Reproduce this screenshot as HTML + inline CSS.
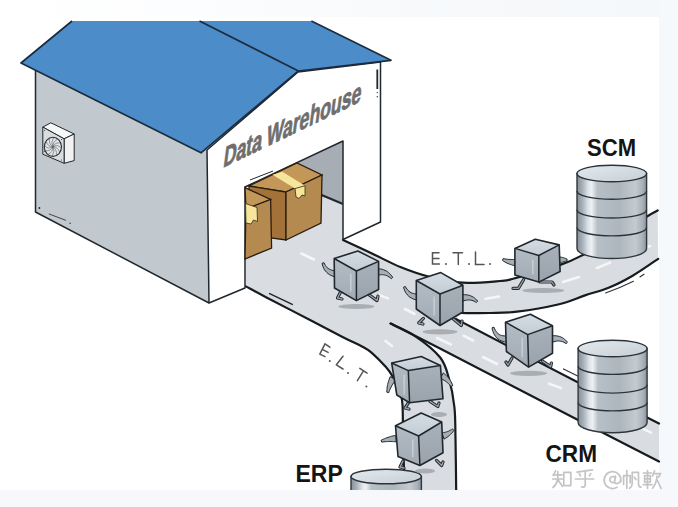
<!DOCTYPE html>
<html><head><meta charset="utf-8"><style>
html,body{margin:0;padding:0;width:678px;height:507px;overflow:hidden;background:#fff;}
svg{display:block;}
</style></head><body>
<svg width="678" height="507" viewBox="0 0 678 507">
<defs><linearGradient id="metal" x1="0" x2="1" y1="0" y2="0"><stop offset="0" stop-color="#868f97"/><stop offset="0.08" stop-color="#a9b2ba"/><stop offset="0.16" stop-color="#dde3e8"/><stop offset="0.21" stop-color="#edf1f4"/><stop offset="0.29" stop-color="#b8c0c7"/><stop offset="0.6" stop-color="#aeb6bd"/><stop offset="0.84" stop-color="#c3cad0"/><stop offset="0.94" stop-color="#aab2b9"/><stop offset="1" stop-color="#88919a"/></linearGradient><linearGradient id="ctop" x1="0" x2="1" y1="0" y2="1"><stop offset="0" stop-color="#e3e9ee"/><stop offset="1" stop-color="#c6cfd6"/></linearGradient><linearGradient id="topband" x1="0" x2="1"><stop offset="0" stop-color="#ffffff"/><stop offset="0.3" stop-color="#fcfdfe"/><stop offset="0.6" stop-color="#f7f9fb"/><stop offset="1" stop-color="#f5f8fa"/></linearGradient><linearGradient id="ctopf" x1="0" x2="0" y1="0" y2="1"><stop offset="0" stop-color="#d5dde4"/><stop offset="1" stop-color="#c3ccd5"/></linearGradient><linearGradient id="cleft" x1="0" x2="0" y1="0" y2="1"><stop offset="0" stop-color="#b3bcc5"/><stop offset="1" stop-color="#a2abb4"/></linearGradient><linearGradient id="cright" x1="0" x2="0" y1="0" y2="1"><stop offset="0" stop-color="#a8b1ba"/><stop offset="1" stop-color="#9aa3ac"/></linearGradient></defs><rect x="0" y="0" width="678" height="507" fill="#ffffff"/><rect x="0" y="0" width="678" height="17" fill="url(#topband)"/><rect x="659" y="0" width="19" height="507" fill="#f6f9fb"/><rect x="0" y="490" width="678" height="17" fill="#f6f8fb"/><path d="M343.0,240.0 C347.8,242.2 362.3,248.9 372.0,253.5 C381.7,258.1 391.4,263.4 401.0,267.3 C410.6,271.2 419.1,274.2 429.4,276.8 C439.6,279.4 450.7,282.0 462.5,282.7 C474.3,283.4 491.4,281.7 500.0,281.0 C508.6,280.3 503.8,281.3 514.0,278.5 C524.2,275.7 549.7,268.5 561.5,264.4 C573.3,260.3 575.7,258.6 584.6,254.0 C593.5,249.4 604.6,243.2 615.0,237.0 C625.4,230.8 639.9,220.9 647.0,216.5 C654.1,212.1 655.9,211.5 657.7,210.5 L658.2,258.8 C653.9,261.7 640.5,271.2 632.2,276.0 C623.9,280.8 616.5,284.6 608.6,287.8 C600.7,291.0 593.4,292.6 585.0,295.4 C576.6,298.2 569.3,301.8 558.0,304.5 C546.7,307.2 528.3,310.3 517.0,311.7 C505.7,313.1 499.3,312.8 490.0,313.0 C480.7,313.2 465.8,313.0 461.0,313.0 L456.0,319.0 C459.5,320.8 457.1,319.6 477.2,330.0 C497.2,340.4 546.0,366.0 576.3,381.6 C606.6,397.2 645.2,416.5 659.0,423.5 L659.0,461.5 C645.8,454.7 616.5,439.7 580.0,420.9 C543.5,402.1 471.6,364.8 440.0,348.6 C408.4,332.4 398.8,327.8 390.6,323.6 L390.6,323.6 C394.7,325.7 407.1,330.7 415.4,336.3 C423.7,341.9 434.6,350.4 440.2,357.5 C445.8,364.6 446.6,370.6 449.0,378.8 C451.4,387.1 453.3,397.0 454.4,407.0 C455.5,417.0 455.2,424.8 455.5,439.0 C455.8,453.2 456.1,483.2 456.2,492.0 L404.0,492.0 C404.0,488.3 404.2,478.7 404.0,470.0 C403.8,461.3 403.2,450.5 403.0,440.0 C402.8,429.5 403.0,414.5 402.6,407.0 C402.2,399.5 402.5,400.2 400.7,395.0 C398.9,389.8 394.5,380.2 392.0,375.5 C389.5,370.8 389.1,370.6 385.7,366.8 C382.3,363.0 375.4,356.0 371.5,352.6 C367.6,349.2 366.8,349.1 362.0,346.5 C357.2,343.9 351.4,341.6 343.0,337.3 C334.6,333.0 324.3,327.5 311.5,320.8 C298.7,314.1 276.9,302.9 266.0,297.2 C255.1,291.5 249.2,288.2 245.8,286.4 L245,195 L343,195 Z" fill="#d9dde1"/><line x1="301.4" y1="253.5" x2="314" y2="259.5" stroke="#f4f6f8" stroke-width="2.6" stroke-linecap="round"/><line x1="379" y1="295" x2="388" y2="298.4" stroke="#f4f6f8" stroke-width="2.6" stroke-linecap="round"/><line x1="405" y1="309" x2="414.5" y2="314" stroke="#f4f6f8" stroke-width="2.6" stroke-linecap="round"/><line x1="385.5" y1="341" x2="392" y2="346" stroke="#f4f6f8" stroke-width="2.6" stroke-linecap="round"/><line x1="463.6" y1="335.7" x2="473" y2="340.5" stroke="#f4f6f8" stroke-width="2.6" stroke-linecap="round"/><line x1="485.5" y1="298.7" x2="499" y2="296.5" stroke="#f4f6f8" stroke-width="2.6" stroke-linecap="round"/><line x1="563" y1="282" x2="579" y2="277" stroke="#f4f6f8" stroke-width="2.6" stroke-linecap="round"/><line x1="597" y1="268" x2="610" y2="262.6" stroke="#f4f6f8" stroke-width="2.6" stroke-linecap="round"/><line x1="639" y1="250" x2="650" y2="246" stroke="#f4f6f8" stroke-width="2.6" stroke-linecap="round"/><line x1="437" y1="338" x2="451" y2="344.5" stroke="#f4f6f8" stroke-width="2.6" stroke-linecap="round"/><line x1="483" y1="357" x2="497" y2="364" stroke="#f4f6f8" stroke-width="2.6" stroke-linecap="round"/><line x1="549" y1="383.7" x2="561" y2="388" stroke="#f4f6f8" stroke-width="2.6" stroke-linecap="round"/><line x1="638.8" y1="426.6" x2="651" y2="432.7" stroke="#f4f6f8" stroke-width="2.6" stroke-linecap="round"/><path d="M343.0,240.0 C347.8,242.2 362.3,248.9 372.0,253.5 C381.7,258.1 391.4,263.4 401.0,267.3 C410.6,271.2 419.1,274.2 429.4,276.8 C439.6,279.4 450.7,282.0 462.5,282.7 C474.3,283.4 491.4,281.7 500.0,281.0 C508.6,280.3 503.8,281.3 514.0,278.5 C524.2,275.7 549.7,268.5 561.5,264.4 C573.3,260.3 575.7,258.6 584.6,254.0 C593.5,249.4 604.6,243.2 615.0,237.0 C625.4,230.8 639.9,220.9 647.0,216.5 C654.1,212.1 655.9,211.5 657.7,210.5" fill="none" stroke="#161b1f" stroke-width="2.2" stroke-linejoin="round" stroke-linecap="round"/><path d="M658.2,258.8 C653.9,261.7 640.5,271.2 632.2,276.0 C623.9,280.8 616.5,284.6 608.6,287.8 C600.7,291.0 593.4,292.6 585.0,295.4 C576.6,298.2 569.3,301.8 558.0,304.5 C546.7,307.2 528.3,310.3 517.0,311.7 C505.7,313.1 499.3,312.8 490.0,313.0 C480.7,313.2 465.8,313.0 461.0,313.0" fill="none" stroke="#161b1f" stroke-width="2.2" stroke-linejoin="round" stroke-linecap="round"/><path d="M456.0,319.0 C459.5,320.8 457.1,319.6 477.2,330.0 C497.2,340.4 546.0,366.0 576.3,381.6 C606.6,397.2 645.2,416.5 659.0,423.5" fill="none" stroke="#161b1f" stroke-width="2.2" stroke-linejoin="round" stroke-linecap="round"/><path d="M659.0,461.5 C645.8,454.7 616.5,439.7 580.0,420.9 C543.5,402.1 471.6,364.8 440.0,348.6 C408.4,332.4 398.8,327.8 390.6,323.6" fill="none" stroke="#161b1f" stroke-width="2.2" stroke-linejoin="round" stroke-linecap="round"/><path d="M390.6,323.6 C394.7,325.7 407.1,330.7 415.4,336.3 C423.7,341.9 434.6,350.4 440.2,357.5 C445.8,364.6 446.6,370.6 449.0,378.8 C451.4,387.1 453.3,397.0 454.4,407.0 C455.5,417.0 455.2,424.8 455.5,439.0 C455.8,453.2 456.1,483.2 456.2,492.0" fill="none" stroke="#161b1f" stroke-width="2.2" stroke-linejoin="round" stroke-linecap="round"/><path d="M404.0,492.0 C404.0,488.3 404.2,478.7 404.0,470.0 C403.8,461.3 403.2,450.5 403.0,440.0 C402.8,429.5 403.0,414.5 402.6,407.0 C402.2,399.5 402.5,400.2 400.7,395.0 C398.9,389.8 394.5,380.2 392.0,375.5 C389.5,370.8 389.1,370.6 385.7,366.8 C382.3,363.0 375.4,356.0 371.5,352.6 C367.6,349.2 366.8,349.1 362.0,346.5 C357.2,343.9 351.4,341.6 343.0,337.3 C334.6,333.0 324.3,327.5 311.5,320.8 C298.7,314.1 276.9,302.9 266.0,297.2 C255.1,291.5 249.2,288.2 245.8,286.4" fill="none" stroke="#161b1f" stroke-width="2.2" stroke-linejoin="round" stroke-linecap="round"/><line x1="269.6" y1="293.6" x2="292.3" y2="304.4" stroke="#20272d" stroke-width="1.5" stroke-linecap="round"/><line x1="563.5" y1="368.9" x2="577.7" y2="376" stroke="#333" stroke-width="1.1" stroke-linecap="round"/><path d="M605.6,293 Q620,288 633.4,281.3 M639.9,277 L644,274.2" fill="none" stroke="#333" stroke-width="1.1" stroke-linecap="round"/><polygon points="290,165 343,141 343,203 320,196 290,192" fill="#a7adb4"/><polyline points="318,193.5 343,204" fill="none" stroke="#20272d" stroke-width="2"/><polygon points="35.5,68 207,150 209,303 35.5,212" fill="#c1c9cf"/><polyline points="35.5,68 35.5,212 209,303" fill="none" stroke="#20272d" stroke-width="1.5" stroke-linejoin="round"/><line x1="48.9" y1="213.9" x2="66" y2="220.4" stroke="#444" stroke-width="1"/><circle cx="39.4" cy="208" r="0.9" fill="#222"/><circle cx="70.1" cy="223.3" r="0.7" fill="#333"/><polygon points="207,150 298,72 380.5,62 380.5,222 343,239.5 343,141 245,187 245,288 209,303" fill="#ffffff" stroke="#20272d" stroke-width="1.5" stroke-linejoin="round"/><line x1="377.3" y1="69.5" x2="377.3" y2="89" stroke="#20272d" stroke-width="1.8"/><circle cx="377.3" cy="92.6" r="0.7" fill="#333"/><circle cx="377.3" cy="96.8" r="0.7" fill="#333"/><line x1="250" y1="180" x2="273" y2="171" stroke="#20272d" stroke-width="1"/><polygon points="72,21 311.4,21 391,60.3 298.4,71 201,152.8 21,63" fill="#4c8cc9"/><polyline points="72,21 21,63 201,152.8 298.4,71 391,60.3 311.4,21" fill="none" stroke="#1b2c40" stroke-width="1.7" stroke-linejoin="round"/><line x1="199.5" y1="21" x2="298.4" y2="71" stroke="#1b2c40" stroke-width="1.7"/><polygon points="42.8,127.1 50.8,122.8 74.2,134 64.1,138.8" fill="#f7f7f7" stroke="#20272d" stroke-width="1"/><polygon points="64.1,138.8 74.2,134 74.2,160.6 64.1,163.3" fill="#f2f2f2" stroke="#20272d" stroke-width="1"/><polygon points="42.8,127.1 64.1,138.8 64.1,163.3 42.8,154.2" fill="#d9dde0" stroke="#20272d" stroke-width="1"/><ellipse cx="52.9" cy="146.8" rx="8.6" ry="9.6" fill="#e4e7ea" stroke="#2a2f33" stroke-width="1.1"/><path d="M52.9,146.8 Q57.9,146.8 59.5,152.0" fill="none" stroke="#555" stroke-width="0.6"/><path d="M52.9,146.8 Q57.2,149.6 56.3,155.0" fill="none" stroke="#555" stroke-width="0.6"/><path d="M52.9,146.8 Q55.4,151.6 52.2,155.8" fill="none" stroke="#555" stroke-width="0.6"/><path d="M52.9,146.8 Q52.9,152.4 48.3,154.2" fill="none" stroke="#555" stroke-width="0.6"/><path d="M52.9,146.8 Q50.4,151.6 45.6,150.6" fill="none" stroke="#555" stroke-width="0.6"/><path d="M52.9,146.8 Q48.6,149.6 44.9,146.0" fill="none" stroke="#555" stroke-width="0.6"/><path d="M52.9,146.8 Q47.9,146.8 46.3,141.6" fill="none" stroke="#555" stroke-width="0.6"/><path d="M52.9,146.8 Q48.6,144.0 49.5,138.6" fill="none" stroke="#555" stroke-width="0.6"/><path d="M52.9,146.8 Q50.4,142.0 53.6,137.8" fill="none" stroke="#555" stroke-width="0.6"/><path d="M52.9,146.8 Q52.9,141.2 57.5,139.4" fill="none" stroke="#555" stroke-width="0.6"/><path d="M52.9,146.8 Q55.4,142.0 60.2,143.0" fill="none" stroke="#555" stroke-width="0.6"/><path d="M52.9,146.8 Q57.2,144.0 60.9,147.6" fill="none" stroke="#555" stroke-width="0.6"/><circle cx="44.6" cy="130.5" r="0.6" fill="#444"/><circle cx="61.5" cy="139.5" r="0.6" fill="#444"/><circle cx="44.6" cy="151.5" r="0.6" fill="#444"/><circle cx="61.5" cy="160" r="0.6" fill="#444"/><polygon points="249,186 297,163 322,175 286,192" fill="#c39758" stroke="#2a1d10" stroke-width="1.3"/><polygon points="249,186 286,192 286,240 249,235" fill="#a27239" stroke="#2a1d10" stroke-width="1.3"/><polygon points="286,192 322,175 321,223 286,240" fill="#b58a50" stroke="#2a1d10" stroke-width="1.3"/><polygon points="272.6,174.8 282.4,171.8 305,185.7 295,188.6" fill="#f6e69b"/><polygon points="295,188.6 305,185.7 305,196 302,195 299,198.5 296,197" fill="#f6e69b" stroke="#3a2a14" stroke-width="0.8"/><polygon points="245,187.6 270.6,199.5 246,209" fill="#c39758" stroke="#2a1d10" stroke-width="1.3"/><polygon points="246,209 270.6,199.5 271.6,248 245,259" fill="#b58a50" stroke="#2a1d10" stroke-width="1.3"/><polygon points="245.5,203.5 257,207.5 257.5,221.5 253.5,220 251,224 246,223" fill="#f6e69b" stroke="#3a2a14" stroke-width="0.8"/><path d="M577.0,173.5 L577.0,248.5 A34.8,10 0 0 0 646.5999999999999,248.5 L646.5999999999999,173.5 Z" fill="url(#metal)" stroke="#30373d" stroke-width="1.4"/><path d="M577.5,192.6 A34.8,8.3 0 0 0 646.0999999999999,192.6" fill="none" stroke="#dfe4e8" stroke-width="1" opacity="0.6"/><path d="M577.0,191 A34.8,8.3 0 0 0 646.5999999999999,191" fill="none" stroke="#2c3338" stroke-width="1.4"/><path d="M577.5,211.29999999999998 A34.8,8.3 0 0 0 646.0999999999999,211.29999999999998" fill="none" stroke="#dfe4e8" stroke-width="1" opacity="0.6"/><path d="M577.0,209.7 A34.8,8.3 0 0 0 646.5999999999999,209.7" fill="none" stroke="#2c3338" stroke-width="1.4"/><path d="M577.5,229.2 A34.8,8.3 0 0 0 646.0999999999999,229.2" fill="none" stroke="#dfe4e8" stroke-width="1" opacity="0.6"/><path d="M577.0,227.6 A34.8,8.3 0 0 0 646.5999999999999,227.6" fill="none" stroke="#2c3338" stroke-width="1.4"/><ellipse cx="611.8" cy="173.5" rx="34.8" ry="8.3" fill="url(#ctop)" stroke="#2c3338" stroke-width="1.5"/><path d="M578.1,348.5 L578.1,422.5 A34.5,10.3 0 0 0 647.1,422.5 L647.1,348.5 Z" fill="url(#metal)" stroke="#30373d" stroke-width="1.4"/><path d="M578.6,367.70000000000005 A34.5,8.3 0 0 0 646.6,367.70000000000005" fill="none" stroke="#dfe4e8" stroke-width="1" opacity="0.6"/><path d="M578.1,366.1 A34.5,8.3 0 0 0 647.1,366.1" fill="none" stroke="#2c3338" stroke-width="1.4"/><path d="M578.6,386.40000000000003 A34.5,8.3 0 0 0 646.6,386.40000000000003" fill="none" stroke="#dfe4e8" stroke-width="1" opacity="0.6"/><path d="M578.1,384.8 A34.5,8.3 0 0 0 647.1,384.8" fill="none" stroke="#2c3338" stroke-width="1.4"/><path d="M578.6,404.20000000000005 A34.5,8.3 0 0 0 646.6,404.20000000000005" fill="none" stroke="#dfe4e8" stroke-width="1" opacity="0.6"/><path d="M578.1,402.6 A34.5,8.3 0 0 0 647.1,402.6" fill="none" stroke="#2c3338" stroke-width="1.4"/><ellipse cx="612.6" cy="348.5" rx="34.5" ry="8.3" fill="url(#ctop)" stroke="#2c3338" stroke-width="1.5"/><path d="M351.0,476.5 L351.0,500 A35.2,7.3 0 0 0 421.4,500 L421.4,476.5 Z" fill="url(#metal)" stroke="#30373d" stroke-width="1.4"/><ellipse cx="386.2" cy="476.5" rx="35.2" ry="7.3" fill="url(#ctop)" stroke="#2c3338" stroke-width="1.5"/><ellipse cx="356.4" cy="306.5" rx="18" ry="2.6" fill="#a3a9ae" opacity="0.9"/><polyline points="341.0,291.0 337.5,298.0 342.0,299.0" fill="none" stroke="#20272d" stroke-width="3.2" stroke-linecap="round" stroke-linejoin="round"/><polyline points="341.0,291.0 337.5,298.0 342.0,299.0" fill="none" stroke="#9aa2aa" stroke-width="1.3" stroke-linecap="round" stroke-linejoin="round"/><polyline points="369.0,294.7 377.0,300.6 378.0,296.0" fill="none" stroke="#20272d" stroke-width="3.2" stroke-linecap="round" stroke-linejoin="round"/><polyline points="369.0,294.7 377.0,300.6 378.0,296.0" fill="none" stroke="#9aa2aa" stroke-width="1.3" stroke-linecap="round" stroke-linejoin="round"/><polygon points="337.3,270.8 335.7,270.8 334.3,270.6 332.9,270.4 331.6,270.1 330.4,269.6 329.3,269.1 328.2,268.4 327.2,267.6 326.3,266.6 325.4,265.5 324.7,264.2 324.0,262.7 322.0,263.3 322.5,265.0 323.0,266.7 323.7,268.3 324.5,269.8 325.5,271.1 326.7,272.4 328.0,273.6 329.5,274.6 331.1,275.5 332.8,276.2 334.7,276.8 336.7,277.2" fill="#a6aeb6" stroke="#20272d" stroke-width="1" stroke-linejoin="round"/><polygon points="378.4,275.2 379.4,274.9 380.5,274.8 381.5,274.7 382.6,274.7 383.6,274.8 384.7,275.0 385.7,275.3 386.8,275.7 387.9,276.2 389.0,276.9 390.1,277.7 391.2,278.7 392.8,277.3 391.8,276.1 390.9,274.9 389.8,273.8 388.7,272.8 387.6,271.8 386.3,271.0 385.0,270.4 383.7,269.8 382.2,269.3 380.7,269.0 379.2,268.8 377.6,268.8" fill="#a6aeb6" stroke="#20272d" stroke-width="1" stroke-linejoin="round"/><polygon points="334.2,258.5 357.9,251.0 378.6,261.4 356.4,271.0" fill="url(#ctopf)"/><polygon points="334.2,258.5 356.4,271.0 356.4,300.6 334.5,288.0" fill="url(#cleft)"/><polygon points="356.4,271.0 378.6,261.4 378.6,289.5 356.4,300.6" fill="url(#cright)"/><line x1="350.8" y1="273.9" x2="350.8" y2="291.5" stroke="#dfe5ea" stroke-width="1.2" opacity="0.7"/><polygon points="334.2,258.5 357.9,251.0 378.6,261.4 378.6,289.5 356.4,300.6 334.5,288.0" fill="none" stroke="#20272d" stroke-width="1.6" stroke-linejoin="round"/><polyline points="334.2,258.5 356.4,271.0 378.6,261.4" fill="none" stroke="#20272d" stroke-width="1.5" stroke-linejoin="round"/><line x1="356.4" y1="271" x2="356.4" y2="300.6" stroke="#20272d" stroke-width="1.5"/><ellipse cx="440" cy="331.8" rx="17.5" ry="2.6" fill="#a3a9ae" opacity="0.9"/><polyline points="423.4,318.4 418.7,323.0 423.0,324.0" fill="none" stroke="#20272d" stroke-width="3.2" stroke-linecap="round" stroke-linejoin="round"/><polyline points="423.4,318.4 418.7,323.0 423.0,324.0" fill="none" stroke="#9aa2aa" stroke-width="1.3" stroke-linecap="round" stroke-linejoin="round"/><polyline points="453.4,319.0 461.3,325.5 462.0,321.0" fill="none" stroke="#20272d" stroke-width="3.2" stroke-linecap="round" stroke-linejoin="round"/><polyline points="453.4,319.0 461.3,325.5 462.0,321.0" fill="none" stroke="#9aa2aa" stroke-width="1.3" stroke-linecap="round" stroke-linejoin="round"/><polygon points="419.0,293.8 417.5,293.9 416.0,293.9 414.7,293.8 413.4,293.5 412.2,293.2 411.1,292.7 410.0,292.1 409.0,291.3 408.0,290.4 407.1,289.2 406.2,287.9 405.4,286.5 403.6,287.1 404.0,288.9 404.7,290.6 405.4,292.2 406.4,293.6 407.4,295.0 408.7,296.2 410.0,297.3 411.6,298.2 413.2,299.0 415.0,299.5 417.0,300.0 419.0,300.2" fill="#a6aeb6" stroke="#20272d" stroke-width="1" stroke-linejoin="round"/><polygon points="462.7,301.2 463.9,300.7 465.2,300.4 466.3,300.2 467.5,300.0 468.6,300.0 469.7,300.0 470.8,300.1 471.9,300.4 473.0,300.7 474.1,301.2 475.2,301.8 476.3,302.5 477.7,301.1 476.7,300.0 475.7,299.0 474.6,298.0 473.4,297.2 472.1,296.5 470.8,295.9 469.3,295.4 467.9,295.0 466.3,294.8 464.7,294.7 463.0,294.7 461.3,294.8" fill="#a6aeb6" stroke="#20272d" stroke-width="1" stroke-linejoin="round"/><polygon points="416.3,280.5 440.8,272.6 462.9,285.3 440.0,294.0" fill="url(#ctopf)"/><polygon points="416.3,280.5 440.0,294.0 440.0,325.5 416.3,309.0" fill="url(#cleft)"/><polygon points="440.0,294.0 462.9,285.3 462.9,312.0 440.0,325.5" fill="url(#cright)"/><line x1="434.1" y1="296.6" x2="434.1" y2="315.4" stroke="#dfe5ea" stroke-width="1.2" opacity="0.7"/><polygon points="416.3,280.5 440.8,272.6 462.9,285.3 462.9,312.0 440.0,325.5 416.3,309.0" fill="none" stroke="#20272d" stroke-width="1.6" stroke-linejoin="round"/><polyline points="416.3,280.5 440.0,294.0 462.9,285.3" fill="none" stroke="#20272d" stroke-width="1.5" stroke-linejoin="round"/><line x1="440" y1="294" x2="440" y2="325.5" stroke="#20272d" stroke-width="1.5"/><ellipse cx="543.3" cy="290.5" rx="21" ry="2.6" fill="#a3a9ae" opacity="0.9"/><polyline points="523.7,279.5 518.4,288.3 513.0,288.3" fill="none" stroke="#20272d" stroke-width="3.2" stroke-linecap="round" stroke-linejoin="round"/><polyline points="523.7,279.5 518.4,288.3 513.0,288.3" fill="none" stroke="#9aa2aa" stroke-width="1.3" stroke-linecap="round" stroke-linejoin="round"/><polyline points="540.0,282.0 552.0,282.0 554.0,285.0" fill="none" stroke="#20272d" stroke-width="3.2" stroke-linecap="round" stroke-linejoin="round"/><polyline points="540.0,282.0 552.0,282.0 554.0,285.0" fill="none" stroke="#9aa2aa" stroke-width="1.3" stroke-linecap="round" stroke-linejoin="round"/><polygon points="515.8,259.4 514.6,259.4 513.4,259.5 512.3,259.5 511.2,259.5 510.1,259.5 509.1,259.4 508.1,259.4 507.1,259.2 506.1,259.1 505.1,258.9 504.2,258.7 503.2,258.5 502.4,260.3 503.2,260.9 504.1,261.5 505.0,262.0 506.0,262.6 507.0,263.1 508.1,263.6 509.2,264.0 510.3,264.4 511.5,264.8 512.7,265.2 513.9,265.5 515.2,265.8" fill="#a6aeb6" stroke="#20272d" stroke-width="1" stroke-linejoin="round"/><polygon points="559.4,263.2 560.0,263.0 560.6,262.7 561.2,262.5 561.8,262.3 562.4,262.1 563.0,261.9 563.6,261.7 564.3,261.5 564.9,261.4 565.6,261.2 566.2,261.1 566.9,261.0 567.1,259.0 566.5,258.7 565.8,258.5 565.1,258.3 564.4,258.0 563.7,257.8 563.0,257.6 562.3,257.4 561.6,257.3 560.8,257.1 560.1,257.0 559.3,256.9 558.6,256.8" fill="#a6aeb6" stroke="#20272d" stroke-width="1" stroke-linejoin="round"/><polygon points="514.9,248.4 535.3,239.2 559.2,244.9 538.8,255.5" fill="url(#ctopf)"/><polygon points="514.9,248.4 538.8,255.5 538.8,282.1 514.9,275.0" fill="url(#cleft)"/><polygon points="538.8,255.5 559.2,244.9 560.1,271.5 538.8,282.1" fill="url(#cright)"/><line x1="532.8" y1="259.7" x2="532.8" y2="274.3" stroke="#dfe5ea" stroke-width="1.2" opacity="0.7"/><polygon points="514.9,248.4 535.3,239.2 559.2,244.9 560.1,271.5 538.8,282.1 514.9,275.0" fill="none" stroke="#20272d" stroke-width="1.6" stroke-linejoin="round"/><polyline points="514.9,248.4 538.8,255.5 559.2,244.9" fill="none" stroke="#20272d" stroke-width="1.5" stroke-linejoin="round"/><line x1="538.8" y1="255.5" x2="538.8" y2="282.1" stroke="#20272d" stroke-width="1.5"/><ellipse cx="528.6" cy="373.3" rx="18.6" ry="2.6" fill="#a3a9ae" opacity="0.9"/><polyline points="512.0,358.0 508.0,365.0 506.0,362.0" fill="none" stroke="#20272d" stroke-width="3.2" stroke-linecap="round" stroke-linejoin="round"/><polyline points="512.0,358.0 508.0,365.0 506.0,362.0" fill="none" stroke="#9aa2aa" stroke-width="1.3" stroke-linecap="round" stroke-linejoin="round"/><polyline points="542.4,361.0 550.7,366.6 551.4,363.0" fill="none" stroke="#20272d" stroke-width="3.2" stroke-linecap="round" stroke-linejoin="round"/><polyline points="542.4,361.0 550.7,366.6 551.4,363.0" fill="none" stroke="#9aa2aa" stroke-width="1.3" stroke-linecap="round" stroke-linejoin="round"/><polygon points="507.0,335.8 505.5,335.9 504.1,335.9 502.8,335.7 501.6,335.5 500.4,335.0 499.3,334.5 498.3,333.8 497.3,332.8 496.4,331.7 495.5,330.4 494.7,328.9 494.0,327.2 492.0,327.8 492.4,329.7 493.0,331.6 493.6,333.3 494.5,334.9 495.5,336.4 496.7,337.8 498.0,339.0 499.5,340.0 501.2,340.8 503.0,341.5 504.9,342.0 507.0,342.2" fill="#a6aeb6" stroke="#20272d" stroke-width="1" stroke-linejoin="round"/><polygon points="552.7,342.2 553.9,341.7 555.1,341.4 556.3,341.2 557.4,341.0 558.5,341.0 559.6,341.1 560.7,341.2 561.8,341.5 562.9,341.8 564.0,342.3 565.0,342.9 566.1,343.7 567.5,342.3 566.6,341.2 565.6,340.1 564.5,339.2 563.3,338.3 562.1,337.6 560.8,336.9 559.3,336.4 557.9,336.1 556.3,335.8 554.7,335.7 553.0,335.7 551.3,335.8" fill="#a6aeb6" stroke="#20272d" stroke-width="1" stroke-linejoin="round"/><polygon points="505.5,322.2 530.4,314.2 552.5,325.7 527.7,334.6" fill="url(#ctopf)"/><polygon points="505.5,322.2 527.7,334.6 528.6,367.1 506.4,351.5" fill="url(#cleft)"/><polygon points="527.7,334.6 552.5,325.7 552.5,353.3 528.6,367.1" fill="url(#cright)"/><line x1="522.2" y1="337.5" x2="522.2" y2="357.2" stroke="#dfe5ea" stroke-width="1.2" opacity="0.7"/><polygon points="505.5,322.2 530.4,314.2 552.5,325.7 552.5,353.3 528.6,367.1 506.4,351.5" fill="none" stroke="#20272d" stroke-width="1.6" stroke-linejoin="round"/><polyline points="505.5,322.2 527.7,334.6 552.5,325.7" fill="none" stroke="#20272d" stroke-width="1.5" stroke-linejoin="round"/><line x1="527.7" y1="334.6" x2="528.6" y2="367.1" stroke="#20272d" stroke-width="1.5"/><ellipse cx="439" cy="414.5" rx="8" ry="2.6" fill="#a3a9ae" opacity="0.9"/><polyline points="408.3,403.0 405.0,408.0 409.0,409.0" fill="none" stroke="#20272d" stroke-width="3.2" stroke-linecap="round" stroke-linejoin="round"/><polyline points="408.3,403.0 405.0,408.0 409.0,409.0" fill="none" stroke="#9aa2aa" stroke-width="1.3" stroke-linecap="round" stroke-linejoin="round"/><polyline points="430.0,401.4 437.8,406.5 439.0,403.0" fill="none" stroke="#20272d" stroke-width="3.2" stroke-linecap="round" stroke-linejoin="round"/><polyline points="430.0,401.4 437.8,406.5 439.0,403.0" fill="none" stroke="#9aa2aa" stroke-width="1.3" stroke-linecap="round" stroke-linejoin="round"/><polygon points="390.2,376.6 389.7,377.9 389.2,379.2 388.8,380.5 388.4,381.8 388.0,383.1 387.7,384.4 387.4,385.7 387.2,387.0 387.1,388.3 386.9,389.6 386.9,390.9 386.8,392.2 388.8,392.6 389.2,391.4 389.6,390.3 390.1,389.1 390.6,388.0 391.1,387.0 391.7,385.9 392.3,384.9 392.9,383.9 393.6,382.9 394.3,381.9 395.0,380.9 395.8,380.0" fill="#a6aeb6" stroke="#20272d" stroke-width="1" stroke-linejoin="round"/><polygon points="440.2,378.7 441.2,379.0 442.2,379.4 443.1,379.8 444.1,380.3 445.0,380.8 445.9,381.5 446.8,382.1 447.7,382.9 448.6,383.7 449.5,384.6 450.3,385.5 451.1,386.5 452.9,385.5 452.3,384.2 451.7,383.0 451.1,381.8 450.4,380.6 449.7,379.5 448.9,378.4 448.1,377.4 447.2,376.4 446.3,375.5 445.3,374.6 444.3,373.7 443.2,372.9" fill="#a6aeb6" stroke="#20272d" stroke-width="1" stroke-linejoin="round"/><polygon points="391.7,363.0 421.2,356.5 440.4,365.5 408.3,370.6" fill="url(#ctopf)"/><polygon points="391.7,363.0 408.3,370.6 409.6,402.7 396.8,395.0" fill="url(#cleft)"/><polygon points="408.3,370.6 440.4,365.5 443.0,398.8 409.6,402.7" fill="url(#cright)"/><line x1="404.1" y1="374.7" x2="404.1" y2="394.8" stroke="#dfe5ea" stroke-width="1.2" opacity="0.7"/><polygon points="391.7,363.0 421.2,356.5 440.4,365.5 443.0,398.8 409.6,402.7 396.8,395.0" fill="none" stroke="#20272d" stroke-width="1.6" stroke-linejoin="round"/><polyline points="391.7,363.0 408.3,370.6 440.4,365.5" fill="none" stroke="#20272d" stroke-width="1.5" stroke-linejoin="round"/><line x1="408.3" y1="370.6" x2="409.6" y2="402.7" stroke="#20272d" stroke-width="1.5"/><ellipse cx="425" cy="471" rx="10" ry="2.6" fill="#a3a9ae" opacity="0.9"/><polyline points="403.0,461.0 400.0,467.0 404.0,468.0" fill="none" stroke="#20272d" stroke-width="3.2" stroke-linecap="round" stroke-linejoin="round"/><polyline points="403.0,461.0 400.0,467.0 404.0,468.0" fill="none" stroke="#9aa2aa" stroke-width="1.3" stroke-linecap="round" stroke-linejoin="round"/><polyline points="436.5,460.4 441.7,465.5 443.0,462.0" fill="none" stroke="#20272d" stroke-width="3.2" stroke-linecap="round" stroke-linejoin="round"/><polyline points="436.5,460.4 441.7,465.5 443.0,462.0" fill="none" stroke="#9aa2aa" stroke-width="1.3" stroke-linecap="round" stroke-linejoin="round"/><polygon points="395.8,435.4 394.5,435.6 393.1,435.9 391.8,436.2 390.5,436.6 389.2,437.0 388.0,437.4 386.8,437.8 385.6,438.2 384.4,438.7 383.3,439.2 382.2,439.7 381.1,440.3 381.7,442.1 382.9,442.0 384.0,441.8 385.2,441.7 386.3,441.6 387.5,441.6 388.7,441.5 389.9,441.5 391.2,441.5 392.4,441.6 393.6,441.6 394.9,441.7 396.2,441.8" fill="#a6aeb6" stroke="#20272d" stroke-width="1" stroke-linejoin="round"/><polygon points="444.0,439.1 445.1,438.5 446.1,437.9 447.0,437.3 448.0,436.6 448.8,435.9 449.7,435.2 450.5,434.4 451.3,433.7 452.0,432.9 452.7,432.0 453.3,431.2 453.9,430.3 452.5,428.9 451.7,429.5 450.8,430.0 450.0,430.4 449.2,430.9 448.3,431.3 447.4,431.6 446.5,431.9 445.6,432.2 444.7,432.4 443.8,432.6 442.9,432.8 442.0,432.9" fill="#a6aeb6" stroke="#20272d" stroke-width="1" stroke-linejoin="round"/><polygon points="395.5,425.8 421.2,413.0 441.7,422.0 418.6,436.0" fill="url(#ctopf)"/><polygon points="395.5,425.8 418.6,436.0 419.9,465.5 398.0,456.5" fill="url(#cleft)"/><polygon points="418.6,436.0 441.7,422.0 443.0,452.7 419.9,465.5" fill="url(#cright)"/><line x1="412.8" y1="439.4" x2="412.8" y2="457.2" stroke="#dfe5ea" stroke-width="1.2" opacity="0.7"/><polygon points="395.5,425.8 421.2,413.0 441.7,422.0 443.0,452.7 419.9,465.5 398.0,456.5" fill="none" stroke="#20272d" stroke-width="1.6" stroke-linejoin="round"/><polyline points="395.5,425.8 418.6,436.0 441.7,422.0" fill="none" stroke="#20272d" stroke-width="1.5" stroke-linejoin="round"/><line x1="418.6" y1="436" x2="419.9" y2="465.5" stroke="#20272d" stroke-width="1.5"/><text transform="translate(587,155.8) scale(0.92,1)" font-family="Liberation Sans" font-weight="bold" font-size="24" fill="#141414">SCM</text><text transform="translate(545.5,462) scale(0.925,1)" font-family="Liberation Sans" font-weight="bold" font-size="24.5" fill="#141414">CRM</text><text transform="translate(295.5,481.8) scale(0.96,1)" font-family="Liberation Sans" font-weight="bold" font-size="24" fill="#141414">ERP</text><text transform="matrix(0.589,-0.283,-0.128,0.986,222.7,167.7)" font-family="Liberation Sans" font-weight="bold" font-size="30" fill="#6e6e6e" stroke="#6e6e6e" stroke-width="0.9">Data Warehouse</text><g stroke="#555" stroke-width="1.5" fill="none" stroke-linecap="round"><path d="M439,252.8 H432.5 V264 H439.4 M432.5,258.4 H439"/><path d="M453,252.8 H462.5 M458.3,252.8 V264.5"/><path d="M475.5,252 V264.5 H484"/></g><g fill="#555"><circle cx="446" cy="264" r="1"/><circle cx="469" cy="264" r="1"/><circle cx="490" cy="264" r="1"/></g><g stroke="#555" stroke-width="1.5" fill="none" stroke-linecap="round" stroke-linejoin="round"><path d="M329.8,347.2 L325,343.8 L319.8,354.1 L325,356.6 M322.2,349.3 L328.1,352.4"/><path d="M343,356.2 L336.4,364.8 L343,369"/><path d="M359.8,368.3 L367.1,373.1 M363.6,370.7 L357.4,380.7"/></g><g fill="#555"><circle cx="329.8" cy="361" r="1"/><circle cx="348" cy="373.1" r="1"/><circle cx="366.4" cy="386.6" r="1"/></g><rect x="0" y="490" width="678" height="17" fill="#f6f8fb"/><g stroke="#c4c4c4" stroke-width="1.7" fill="none" stroke-linecap="round" stroke-linejoin="round"><path d="M555.5,470.8 L553.2,475.5 M553.2,474.8 H562 M552.8,479 H562.5 M557.8,471.5 V479 Q557,484 553,487.5 M558.5,480.5 L562.3,486.3 M563.8,472.3 H570.8 V485.6 H563.8 Z"/><path d="M577,472.2 L592.4,469.9 M579.2,473.8 L580.5,475.8 M590.8,473.6 L589.4,475.8 M575.5,479 H593.7 M585.2,471.5 V485.3 Q585,487.6 581.5,487"/><path d="M620.8,481.5 A8.4,8.4 0 1 0 617,487.2 M615.6,476 L614.5,482 Q615,484 617.5,483.5 Q620.8,482.5 620.8,479.5 M615.5,478.2 A3,3 0 1 0 614.5,482"/><path d="M626.8,470.7 V488.3 M623.6,484.3 V475.6 H630.2 V482.8 M632.2,472.3 V484 Q631.8,487 629.6,488.3 M632.2,472.3 H638.5 V484.5 Q639,487.5 641.2,487 M634.3,477.2 L636,479.6"/><path d="M643.4,473 H651.6 M644.6,475.6 H650.4 V482 H644.6 Z M644.6,478.8 H650.4 M643.2,484.6 H652 M647.5,470.7 V488.3 M654.6,470.7 L652.7,476 M653.6,473.6 H660.5 L658.6,477.2 M657,476 Q656.6,483 652.6,488.3 M657.2,480.2 L661,488.3"/></g>
</svg></body></html>
